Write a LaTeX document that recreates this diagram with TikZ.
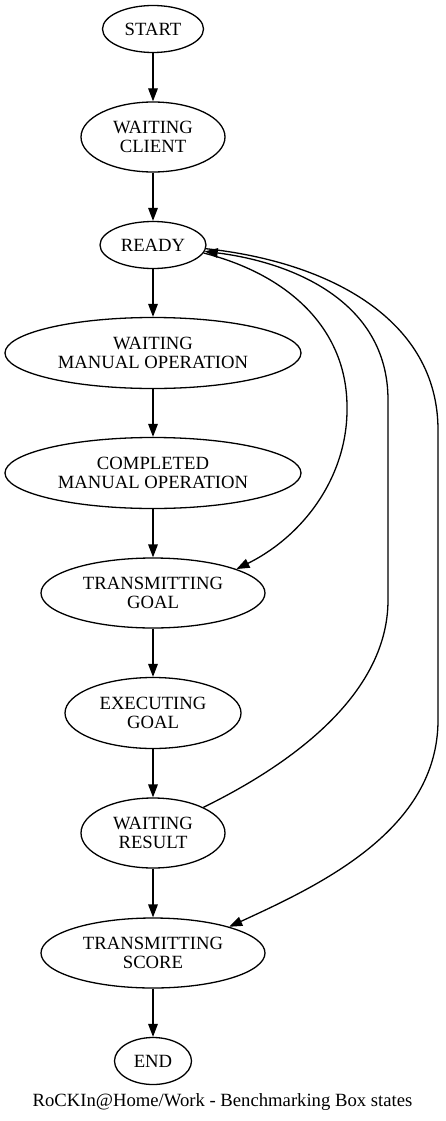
\documentclass[tikz,border=0pt]{standalone}
\usepackage{fontspec}
\setmainfont{Liberation Serif}
\usetikzlibrary{shapes.geometric,arrows.meta}
\begin{document}
\begin{tikzpicture}[x=1pt,y=-1pt,
  st/.style={ellipse,draw,line width=1.3pt,inner sep=0pt,align=center,
    font=\fontsize{18.67}{19.5}\selectfont},
  arr/.style={line width=1.3pt,-{Triangle[length=13pt,width=9.6pt]}},
  captext/.style={font=\fontsize{18.67}{19.5}\selectfont,inner sep=0pt,anchor=base}]
\useasboundingbox (0,0) rectangle (445,1121);
\node[st,minimum width=101pt,minimum height=47pt] (start) at (153,29) {START};
\node[st,minimum width=144pt,minimum height=70pt] (wc) at (153,137) {WAITING\\CLIENT};
\node[st,minimum width=106pt,minimum height=47pt] (ready) at (153,245) {READY};
\node[st,minimum width=296pt,minimum height=71pt] (wmo) at (153,353) {WAITING\\MANUAL OPERATION};
\node[st,minimum width=296pt,minimum height=71pt] (cmo) at (153,473) {COMPLETED\\MANUAL OPERATION};
\node[st,minimum width=224pt,minimum height=70pt] (tg) at (153,593) {TRANSMITTING\\GOAL};
\node[st,minimum width=176pt,minimum height=71pt] (eg) at (153,713) {EXECUTING\\GOAL};
\node[st,minimum width=144pt,minimum height=70pt] (wr) at (153,833) {WAITING\\RESULT};
\node[st,minimum width=224pt,minimum height=70pt] (ts) at (153,953) {TRANSMITTING\\SCORE};
\node[st,minimum width=77pt,minimum height=47pt] (end) at (153,1061) {END};
\node[captext] (caption) at (222.5,1106) {RoCKIn@Home/Work - Benchmarking Box states};

\draw[arr] (start) -- (wc);
\draw[arr] (wc) -- (ready);
\draw[arr] (ready) -- (wmo);
\draw[arr] (wmo) -- (cmo);
\draw[arr] (cmo) -- (tg);
\draw[arr] (tg) -- (eg);
\draw[arr] (eg) -- (wr);
\draw[arr] (wr) -- (ts);
\draw[arr] (ts) -- (end);

% READY -> TRANSMITTING GOAL
\draw[arr] (ready.-9) .. controls (290,275) and (347,330) .. (347,407)
  .. controls (348,475) and (305,535) .. (tg.16);
% WAITING RESULT -> READY
\draw[arr] (wr.27) .. controls (300,760) and (388,690) .. (388,600)
  -- (388,400) .. controls (388,300) and (290,262) .. (ready.-7);
% READY -> TRANSMITTING SCORE
\draw[arr] (ready.-4) .. controls (330,262) and (438,320) .. (438,430)
  -- (438,720) .. controls (438,830) and (320,885) .. (ts.19);
\end{tikzpicture}
\end{document}
